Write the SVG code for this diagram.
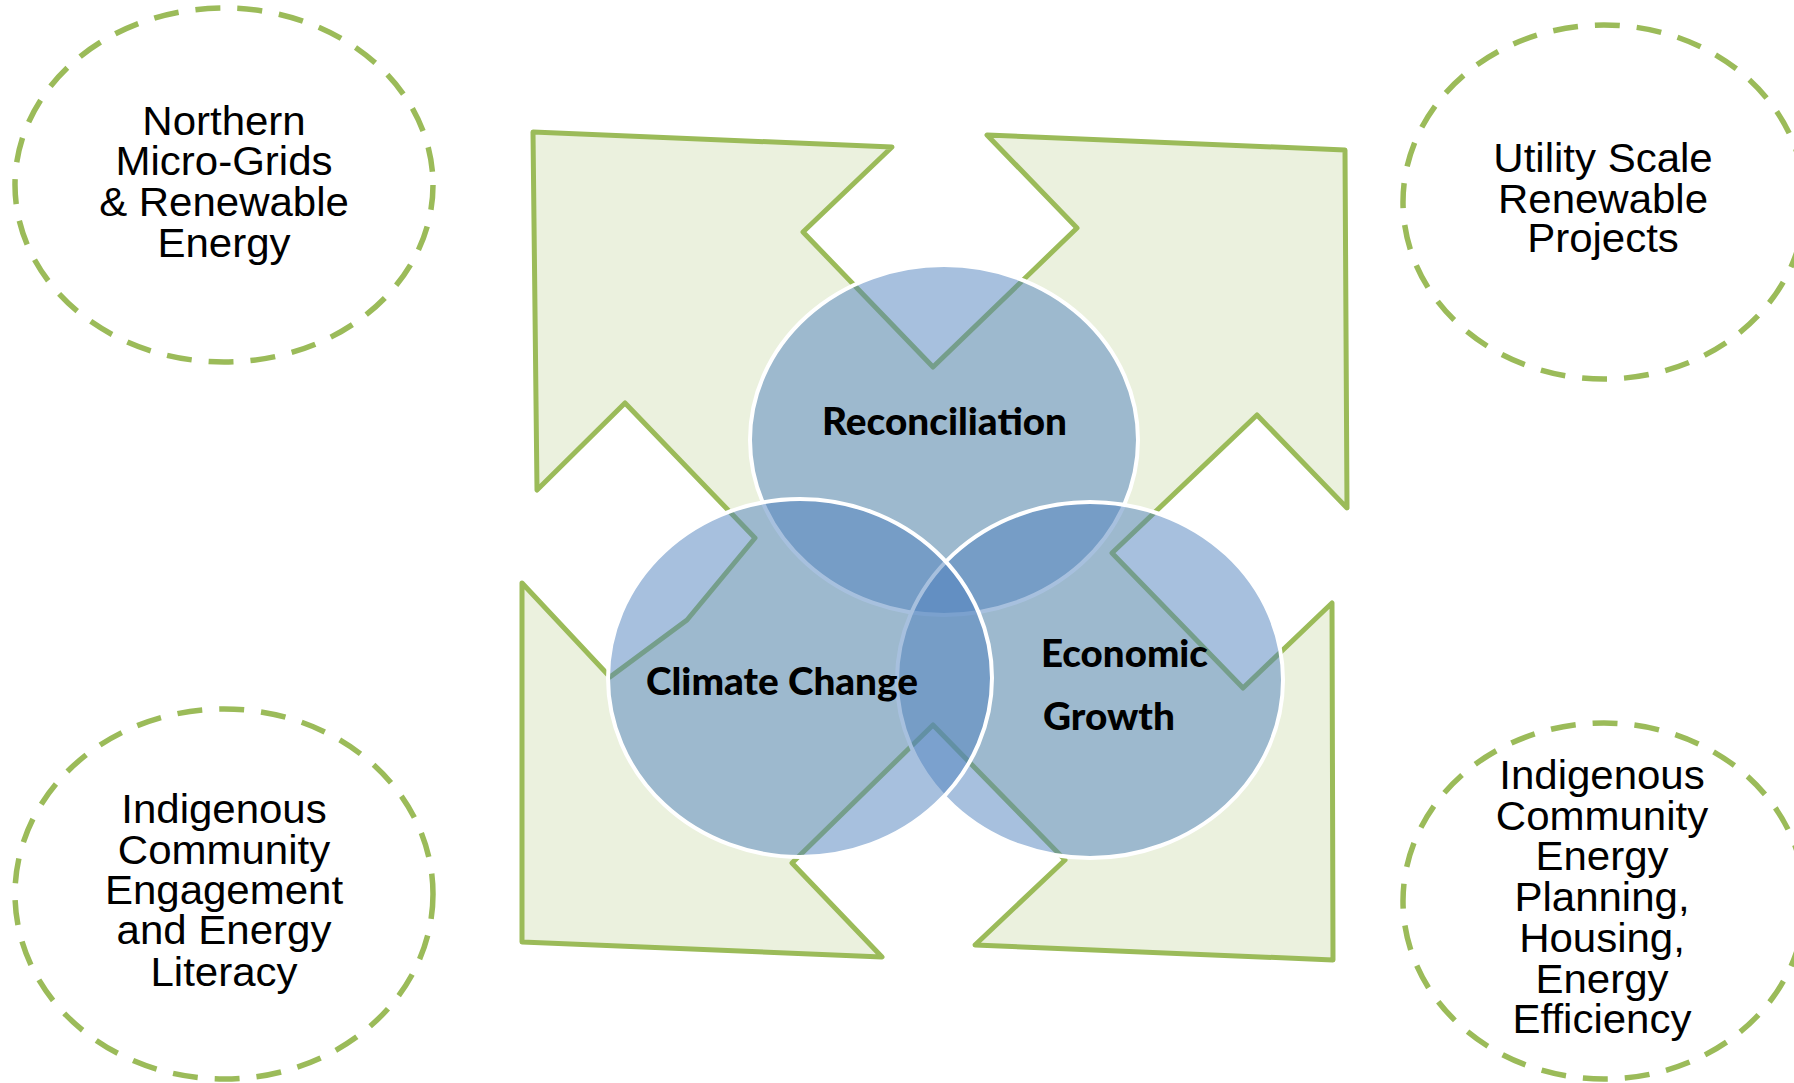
<svg xmlns="http://www.w3.org/2000/svg" width="1794" height="1083" viewBox="0 0 1794 1083">
  <style>
    .dash { fill: none; stroke: #9BBB59; stroke-width: 5.5; stroke-dasharray: 25 17; }
    .lbl { font-family: "Liberation Sans", Arial, sans-serif; font-size: 40px; fill: #000; text-anchor: middle; }
    .venn { fill: #4F81BD; fill-opacity: 0.5; stroke: #FFFFFF; stroke-width: 4; }
    .vl { font-family: Lato, "Open Sans", sans-serif; font-weight: 900; font-size: 37px; fill: #000; }
  </style>
  <rect width="1794" height="1083" fill="#FFFFFF"/>

  <g id="cycle-arrows">
    <polygon points="533,132 892,147 803,232 933,367 1077,228 987,135 1345,150 1347,508 1257,415 1112,553 1243,688 1332,603 1333,960 975,945 1065,860 933,725 792,863 882,957 522,942 522,583 610,677 687,620 755,538 625,403 537,490" fill="#EBF1DE" stroke="#9BBB59" stroke-width="5" stroke-linejoin="round"/>
  </g>

  <g id="reconciliation">
    <ellipse class="venn" cx="944" cy="440" rx="194" ry="175"/>
    <text class="vl" x="822" y="435" textLength="245" lengthAdjust="spacingAndGlyphs">Reconciliation</text>
  </g>
  <g id="economic-growth">
    <ellipse class="venn" cx="1090" cy="680" rx="193" ry="178"/>
    <text class="vl" x="1041" y="667" textLength="167" lengthAdjust="spacingAndGlyphs">Economic</text>
    <text class="vl" x="1043" y="730" textLength="132" lengthAdjust="spacingAndGlyphs">Growth</text>
  </g>
  <g id="climate-change">
    <ellipse class="venn" cx="800" cy="678" rx="192" ry="179"/>
    <text class="vl" x="646" y="695" textLength="272" lengthAdjust="spacingAndGlyphs">Climate Change</text>
  </g>

  <g id="northern-micro-grids">
    <ellipse class="dash" cx="224" cy="185" rx="209" ry="177"/>
    <g transform="translate(224 0) scale(1.05 1)">
      <text class="lbl" x="0" y="135">Northern</text>
      <text class="lbl" x="0" y="175">Micro-Grids</text>
      <text class="lbl" x="0" y="216">&amp; Renewable</text>
      <text class="lbl" x="0" y="257">Energy</text>
    </g>
  </g>

  <g id="utility-scale">
    <ellipse class="dash" cx="1604" cy="202" rx="201" ry="177"/>
    <g transform="translate(1603 0) scale(1.05 1)">
      <text class="lbl" x="0" y="172">Utility Scale</text>
      <text class="lbl" x="0" y="213">Renewable</text>
      <text class="lbl" x="0" y="252">Projects</text>
    </g>
  </g>

  <g id="community-engagement">
    <ellipse class="dash" cx="224" cy="894" rx="209" ry="185"/>
    <g transform="translate(224 0) scale(1.05 1)">
      <text class="lbl" x="0" y="823">Indigenous</text>
      <text class="lbl" x="0" y="864">Community</text>
      <text class="lbl" x="0" y="904">Engagement</text>
      <text class="lbl" x="0" y="944">and Energy</text>
      <text class="lbl" x="0" y="986">Literacy</text>
    </g>
  </g>

  <g id="community-energy-planning">
    <ellipse class="dash" cx="1604" cy="901" rx="201" ry="178"/>
    <g transform="translate(1602 0) scale(1.05 1)">
      <text class="lbl" x="0" y="789">Indigenous</text>
      <text class="lbl" x="0" y="830">Community</text>
      <text class="lbl" x="0" y="870">Energy</text>
      <text class="lbl" x="0" y="911">Planning,</text>
      <text class="lbl" x="0" y="952">Housing,</text>
      <text class="lbl" x="0" y="993">Energy</text>
      <text class="lbl" x="0" y="1033">Efficiency</text>
    </g>
  </g>

  <g id="connectors"/>
</svg>
